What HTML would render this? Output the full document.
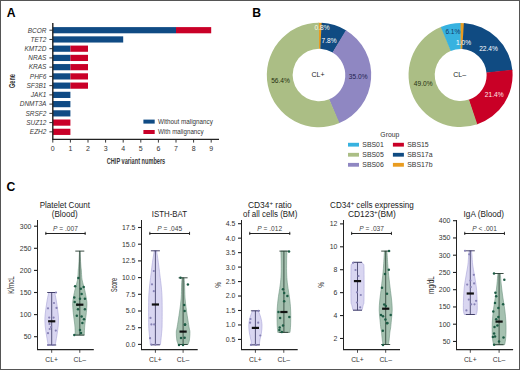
<!DOCTYPE html>
<html><head><meta charset="utf-8"><style>
html,body{margin:0;padding:0;background:#fff;}
svg{display:block;font-family:"Liberation Sans", sans-serif;}
</style></head><body>
<svg width="520" height="370" viewBox="0 0 520 370">
<rect width="520" height="370" fill="#fff"/>
<text x="6.80" y="16.90" font-size="12.2" text-anchor="start" fill="#000" font-weight="bold" font-style="normal" >A</text>
<text x="252.30" y="16.90" font-size="12.2" text-anchor="start" fill="#000" font-weight="bold" font-style="normal" >B</text>
<text x="6.60" y="190.90" font-size="12.2" text-anchor="start" fill="#000" font-weight="bold" font-style="normal" >C</text>
<rect x="52.80" y="27.10" width="123.20" height="6.20" fill="#104b84"/>
<rect x="176.00" y="27.10" width="35.20" height="6.20" fill="#c90028"/>
<line x1="49.40" y1="30.20" x2="52.80" y2="30.20" stroke="#222" stroke-width="0.9"/>
<text x="0" y="0" font-size="7.3" text-anchor="end" fill="#3a3a3a" font-style="italic" transform="translate(46.4 32.50) scale(0.89 1)">BCOR</text>
<rect x="52.80" y="36.34" width="70.40" height="6.20" fill="#104b84"/>
<line x1="49.40" y1="39.44" x2="52.80" y2="39.44" stroke="#222" stroke-width="0.9"/>
<text x="0" y="0" font-size="7.3" text-anchor="end" fill="#3a3a3a" font-style="italic" transform="translate(46.4 41.74) scale(0.89 1)">TET2</text>
<rect x="52.80" y="45.58" width="17.60" height="6.20" fill="#104b84"/>
<rect x="70.40" y="45.58" width="17.60" height="6.20" fill="#c90028"/>
<line x1="49.40" y1="48.68" x2="52.80" y2="48.68" stroke="#222" stroke-width="0.9"/>
<text x="0" y="0" font-size="7.3" text-anchor="end" fill="#3a3a3a" font-style="italic" transform="translate(46.4 50.98) scale(0.89 1)">KMT2D</text>
<rect x="52.80" y="54.82" width="17.60" height="6.20" fill="#104b84"/>
<rect x="70.40" y="54.82" width="17.60" height="6.20" fill="#c90028"/>
<line x1="49.40" y1="57.92" x2="52.80" y2="57.92" stroke="#222" stroke-width="0.9"/>
<text x="0" y="0" font-size="7.3" text-anchor="end" fill="#3a3a3a" font-style="italic" transform="translate(46.4 60.22) scale(0.89 1)">NRAS</text>
<rect x="52.80" y="64.06" width="17.60" height="6.20" fill="#104b84"/>
<rect x="70.40" y="64.06" width="17.60" height="6.20" fill="#c90028"/>
<line x1="49.40" y1="67.16" x2="52.80" y2="67.16" stroke="#222" stroke-width="0.9"/>
<text x="0" y="0" font-size="7.3" text-anchor="end" fill="#3a3a3a" font-style="italic" transform="translate(46.4 69.46) scale(0.89 1)">KRAS</text>
<rect x="52.80" y="73.30" width="17.60" height="6.20" fill="#104b84"/>
<rect x="70.40" y="73.30" width="17.60" height="6.20" fill="#c90028"/>
<line x1="49.40" y1="76.40" x2="52.80" y2="76.40" stroke="#222" stroke-width="0.9"/>
<text x="0" y="0" font-size="7.3" text-anchor="end" fill="#3a3a3a" font-style="italic" transform="translate(46.4 78.70) scale(0.89 1)">PHF6</text>
<rect x="52.80" y="82.54" width="17.60" height="6.20" fill="#104b84"/>
<rect x="70.40" y="82.54" width="17.60" height="6.20" fill="#c90028"/>
<line x1="49.40" y1="85.64" x2="52.80" y2="85.64" stroke="#222" stroke-width="0.9"/>
<text x="0" y="0" font-size="7.3" text-anchor="end" fill="#3a3a3a" font-style="italic" transform="translate(46.4 87.94) scale(0.89 1)">SF3B1</text>
<rect x="52.80" y="91.78" width="17.60" height="6.20" fill="#104b84"/>
<line x1="49.40" y1="94.88" x2="52.80" y2="94.88" stroke="#222" stroke-width="0.9"/>
<text x="0" y="0" font-size="7.3" text-anchor="end" fill="#3a3a3a" font-style="italic" transform="translate(46.4 97.18) scale(0.89 1)">JAK1</text>
<rect x="52.80" y="101.02" width="17.60" height="6.20" fill="#104b84"/>
<line x1="49.40" y1="104.12" x2="52.80" y2="104.12" stroke="#222" stroke-width="0.9"/>
<text x="0" y="0" font-size="7.3" text-anchor="end" fill="#3a3a3a" font-style="italic" transform="translate(46.4 106.42) scale(0.89 1)">DNMT3A</text>
<rect x="52.80" y="110.26" width="17.60" height="6.20" fill="#104b84"/>
<line x1="49.40" y1="113.36" x2="52.80" y2="113.36" stroke="#222" stroke-width="0.9"/>
<text x="0" y="0" font-size="7.3" text-anchor="end" fill="#3a3a3a" font-style="italic" transform="translate(46.4 115.66) scale(0.89 1)">SRSF2</text>
<rect x="52.80" y="119.50" width="17.60" height="6.20" fill="#c90028"/>
<line x1="49.40" y1="122.60" x2="52.80" y2="122.60" stroke="#222" stroke-width="0.9"/>
<text x="0" y="0" font-size="7.3" text-anchor="end" fill="#3a3a3a" font-style="italic" transform="translate(46.4 124.90) scale(0.89 1)">SUZ12</text>
<rect x="52.80" y="128.74" width="17.60" height="6.20" fill="#c90028"/>
<line x1="49.40" y1="131.84" x2="52.80" y2="131.84" stroke="#222" stroke-width="0.9"/>
<text x="0" y="0" font-size="7.3" text-anchor="end" fill="#3a3a3a" font-style="italic" transform="translate(46.4 134.14) scale(0.89 1)">EZH2</text>
<line x1="52.80" y1="23.00" x2="52.80" y2="139.80" stroke="#222" stroke-width="1.4"/>
<line x1="52.30" y1="139.30" x2="219.00" y2="139.30" stroke="#222" stroke-width="1.2"/>
<line x1="52.80" y1="139.30" x2="52.80" y2="142.60" stroke="#222" stroke-width="0.9"/>
<text x="52.80" y="151.20" font-size="7" text-anchor="middle" fill="#333" font-weight="normal" font-style="normal" >0</text>
<line x1="70.40" y1="139.30" x2="70.40" y2="142.60" stroke="#222" stroke-width="0.9"/>
<text x="70.40" y="151.20" font-size="7" text-anchor="middle" fill="#333" font-weight="normal" font-style="normal" >1</text>
<line x1="88.00" y1="139.30" x2="88.00" y2="142.60" stroke="#222" stroke-width="0.9"/>
<text x="88.00" y="151.20" font-size="7" text-anchor="middle" fill="#333" font-weight="normal" font-style="normal" >2</text>
<line x1="105.60" y1="139.30" x2="105.60" y2="142.60" stroke="#222" stroke-width="0.9"/>
<text x="105.60" y="151.20" font-size="7" text-anchor="middle" fill="#333" font-weight="normal" font-style="normal" >3</text>
<line x1="123.20" y1="139.30" x2="123.20" y2="142.60" stroke="#222" stroke-width="0.9"/>
<text x="123.20" y="151.20" font-size="7" text-anchor="middle" fill="#333" font-weight="normal" font-style="normal" >4</text>
<line x1="140.80" y1="139.30" x2="140.80" y2="142.60" stroke="#222" stroke-width="0.9"/>
<text x="140.80" y="151.20" font-size="7" text-anchor="middle" fill="#333" font-weight="normal" font-style="normal" >5</text>
<line x1="158.40" y1="139.30" x2="158.40" y2="142.60" stroke="#222" stroke-width="0.9"/>
<text x="158.40" y="151.20" font-size="7" text-anchor="middle" fill="#333" font-weight="normal" font-style="normal" >6</text>
<line x1="176.00" y1="139.30" x2="176.00" y2="142.60" stroke="#222" stroke-width="0.9"/>
<text x="176.00" y="151.20" font-size="7" text-anchor="middle" fill="#333" font-weight="normal" font-style="normal" >7</text>
<line x1="193.60" y1="139.30" x2="193.60" y2="142.60" stroke="#222" stroke-width="0.9"/>
<text x="193.60" y="151.20" font-size="7" text-anchor="middle" fill="#333" font-weight="normal" font-style="normal" >8</text>
<line x1="211.20" y1="139.30" x2="211.20" y2="142.60" stroke="#222" stroke-width="0.9"/>
<text x="211.20" y="151.20" font-size="7" text-anchor="middle" fill="#333" font-weight="normal" font-style="normal" >9</text>
<text x="136.00" y="163.50" font-size="8.4" text-anchor="middle" fill="#3a3a3a" font-weight="bold" font-style="normal" textLength="58.5" lengthAdjust="spacingAndGlyphs">CHIP variant numbers</text>
<text x="14.7" y="81.0" font-size="8.6" font-weight="bold" text-anchor="middle" fill="#333" transform="rotate(-90 14.7 81.0)" textLength="14" lengthAdjust="spacingAndGlyphs">Gene</text>
<rect x="143.40" y="119.60" width="11.30" height="4.00" fill="#104b84"/>
<rect x="143.40" y="130.00" width="11.30" height="4.00" fill="#c90028"/>
<text x="158.00" y="124.00" font-size="7.2" text-anchor="start" fill="#333" font-weight="normal" font-style="normal" textLength="54.8" lengthAdjust="spacingAndGlyphs">Without malignancy</text>
<text x="158.00" y="134.20" font-size="7.2" text-anchor="start" fill="#333" font-weight="normal" font-style="normal" textLength="45.5" lengthAdjust="spacingAndGlyphs">With malignancy</text>
<path d="M318.37,22.80 A52.2,52.2 0 0 1 322.25,22.90 L320.64,48.75 A26.3,26.3 0 0 0 318.68,48.70 Z" fill="#e99c20" />
<path d="M321.62,22.87 A52.2,52.2 0 0 1 346.39,30.56 L332.80,52.61 A26.3,26.3 0 0 0 320.32,48.73 Z" fill="#104b82" />
<path d="M345.85,30.24 A52.2,52.2 0 0 1 338.85,123.28 L329.00,99.32 A26.3,26.3 0 0 0 332.53,52.45 Z" fill="#8f87c2" />
<path d="M339.43,123.04 A52.2,52.2 0 1 1 319.00,22.80 L319.00,48.70 A26.3,26.3 0 1 0 329.29,99.20 Z" fill="#abbe85" />
<path d="M459.98,23.00 A52.0,52.0 0 0 1 464.49,23.15 L462.54,49.07 A26.0,26.0 0 0 0 460.29,49.00 Z" fill="#e99c20" />
<path d="M463.87,23.10 A52.0,52.0 0 0 1 512.40,70.40 L486.50,72.70 A26.0,26.0 0 0 0 462.23,49.05 Z" fill="#104b82" />
<path d="M512.34,69.78 A52.0,52.0 0 0 1 476.70,124.45 L468.65,99.72 A26.0,26.0 0 0 0 486.47,72.39 Z" fill="#c90026" />
<path d="M477.29,124.25 A52.0,52.0 0 0 1 441.43,26.66 L451.02,50.83 A26.0,26.0 0 0 0 468.94,99.62 Z" fill="#abbe85" />
<path d="M440.85,26.90 A52.0,52.0 0 0 1 460.60,23.00 L460.60,49.00 A26.0,26.0 0 0 0 450.73,50.95 Z" fill="#37b2e0" />
<text x="322.00" y="30.20" font-size="6.6" text-anchor="middle" fill="#fdfbe6" font-weight="normal" font-style="normal" >0.8%</text>
<text x="329.00" y="43.20" font-size="6.6" text-anchor="middle" fill="#ffffff" font-weight="normal" font-style="normal" >7.8%</text>
<text x="358.20" y="78.90" font-size="6.6" text-anchor="middle" fill="#221f4f" font-weight="normal" font-style="normal" >35.0%</text>
<text x="280.50" y="82.60" font-size="6.6" text-anchor="middle" fill="#26300f" font-weight="normal" font-style="normal" >56.4%</text>
<text x="318.00" y="77.00" font-size="7" text-anchor="middle" fill="#222" font-weight="normal" font-style="normal" >CL+</text>
<text x="452.90" y="33.70" font-size="6.6" text-anchor="middle" fill="#123a6a" font-weight="normal" font-style="normal" >6.1%</text>
<text x="463.60" y="45.10" font-size="6.6" text-anchor="middle" fill="#ffffff" font-weight="normal" font-style="normal" >1.0%</text>
<text x="488.50" y="50.50" font-size="6.6" text-anchor="middle" fill="#ffffff" font-weight="normal" font-style="normal" >22.4%</text>
<text x="494.20" y="96.70" font-size="6.6" text-anchor="middle" fill="#ffe8ea" font-weight="normal" font-style="normal" >21.4%</text>
<text x="423.20" y="85.90" font-size="6.6" text-anchor="middle" fill="#26300f" font-weight="normal" font-style="normal" >49.0%</text>
<text x="459.70" y="77.20" font-size="7" text-anchor="middle" fill="#222" font-weight="normal" font-style="normal" >CL–</text>
<text x="389.80" y="137.00" font-size="6.8" text-anchor="middle" fill="#333" font-weight="normal" font-style="normal" >Group</text>
<rect x="348.00" y="142.80" width="11.00" height="3.80" fill="#37b2e0"/>
<text x="362.30" y="147.20" font-size="6.9" text-anchor="start" fill="#333" font-weight="normal" font-style="normal" >SBS01</text>
<rect x="392.90" y="142.80" width="11.00" height="3.80" fill="#c90026"/>
<text x="407.20" y="147.20" font-size="6.9" text-anchor="start" fill="#333" font-weight="normal" font-style="normal" >SBS15</text>
<rect x="348.00" y="152.85" width="11.00" height="3.80" fill="#abbe85"/>
<text x="362.30" y="157.25" font-size="6.9" text-anchor="start" fill="#333" font-weight="normal" font-style="normal" >SBS05</text>
<rect x="392.90" y="152.85" width="11.00" height="3.80" fill="#104b82"/>
<text x="407.20" y="157.25" font-size="6.9" text-anchor="start" fill="#333" font-weight="normal" font-style="normal" >SBS17a</text>
<rect x="348.00" y="162.90" width="11.00" height="3.80" fill="#8f87c2"/>
<text x="362.30" y="167.30" font-size="6.9" text-anchor="start" fill="#333" font-weight="normal" font-style="normal" >SBS06</text>
<rect x="392.90" y="162.90" width="11.00" height="3.80" fill="#e99c20"/>
<text x="407.20" y="167.30" font-size="6.9" text-anchor="start" fill="#333" font-weight="normal" font-style="normal" >SBS17b</text>
<line x1="37.50" y1="220.00" x2="37.50" y2="350.00" stroke="#222" stroke-width="1"/>
<line x1="37.00" y1="349.70" x2="93.80" y2="349.70" stroke="#222" stroke-width="1.3"/>
<line x1="34.00" y1="336.70" x2="37.50" y2="336.70" stroke="#222" stroke-width="1.1"/>
<text x="31.30" y="339.15" font-size="6.9" text-anchor="end" fill="#333" font-weight="normal" font-style="normal" >50</text>
<line x1="34.00" y1="314.60" x2="37.50" y2="314.60" stroke="#222" stroke-width="1.1"/>
<text x="31.30" y="317.05" font-size="6.9" text-anchor="end" fill="#333" font-weight="normal" font-style="normal" >100</text>
<line x1="34.00" y1="292.50" x2="37.50" y2="292.50" stroke="#222" stroke-width="1.1"/>
<text x="31.30" y="294.95" font-size="6.9" text-anchor="end" fill="#333" font-weight="normal" font-style="normal" >150</text>
<line x1="34.00" y1="270.40" x2="37.50" y2="270.40" stroke="#222" stroke-width="1.1"/>
<text x="31.30" y="272.85" font-size="6.9" text-anchor="end" fill="#333" font-weight="normal" font-style="normal" >200</text>
<line x1="34.00" y1="248.30" x2="37.50" y2="248.30" stroke="#222" stroke-width="1.1"/>
<text x="31.30" y="250.75" font-size="6.9" text-anchor="end" fill="#333" font-weight="normal" font-style="normal" >250</text>
<line x1="34.00" y1="226.20" x2="37.50" y2="226.20" stroke="#222" stroke-width="1.1"/>
<text x="31.30" y="228.65" font-size="6.9" text-anchor="end" fill="#333" font-weight="normal" font-style="normal" >300</text>
<text x="64.85" y="207.60" font-size="8.3" text-anchor="middle" fill="#222" font-weight="normal" font-style="normal" textLength="50.2" lengthAdjust="spacingAndGlyphs">Platelet Count</text>
<text x="64.75" y="216.90" font-size="8.3" text-anchor="middle" fill="#222" font-weight="normal" font-style="normal" textLength="25.9" lengthAdjust="spacingAndGlyphs">(Blood)</text>
<line x1="45.40" y1="233.50" x2="85.60" y2="233.50" stroke="#222" stroke-width="1.0"/>
<line x1="45.85" y1="231.80" x2="45.85" y2="235.00" stroke="#222" stroke-width="0.9"/>
<line x1="85.15" y1="231.80" x2="85.15" y2="235.00" stroke="#222" stroke-width="0.9"/>
<text x="65.50" y="231.40" font-size="6.6" text-anchor="middle" fill="#444" font-weight="normal" font-style="normal" ><tspan font-style="italic">P</tspan> = .007</text>
<line x1="51.70" y1="349.50" x2="51.70" y2="352.80" stroke="#222" stroke-width="0.8"/>
<text x="51.70" y="361.80" font-size="6.8" text-anchor="middle" fill="#333" font-weight="normal" font-style="normal" >CL+</text>
<line x1="79.80" y1="349.50" x2="79.80" y2="352.80" stroke="#222" stroke-width="0.8"/>
<text x="79.80" y="361.80" font-size="6.8" text-anchor="middle" fill="#333" font-weight="normal" font-style="normal" >CL–</text>
<text x="14.4" y="285.0" font-size="8.2" text-anchor="middle" fill="#2a2a2a" transform="rotate(-90 14.4 285.0)" textLength="17.6" lengthAdjust="spacingAndGlyphs">K/mcL</text>
<path d="M51.70,292.50 L54.70,292.50 C54.95,293.75 55.70,297.08 56.20,300.00 C56.70,302.92 57.32,307.00 57.70,310.00 C58.08,313.00 58.42,315.33 58.50,318.00 C58.58,320.67 58.48,323.00 58.20,326.00 C57.92,329.00 57.30,332.83 56.80,336.00 C56.30,339.17 55.47,343.50 55.20,345.00 L51.70,345.00 L48.20,345.00 C47.93,343.50 47.10,339.17 46.60,336.00 C46.10,332.83 45.48,329.00 45.20,326.00 C44.92,323.00 44.82,320.67 44.90,318.00 C44.98,315.33 45.32,313.00 45.70,310.00 C46.08,307.00 46.70,302.92 47.20,300.00 C47.70,297.08 48.45,293.75 48.70,292.50 Z" fill="#d9d6f1" stroke="#aaa4d8" stroke-width="0.6"/>
<line x1="51.70" y1="292.50" x2="51.70" y2="345.00" stroke="#34325c" stroke-width="0.8"/>
<line x1="47.20" y1="292.50" x2="56.20" y2="292.50" stroke="#34325c" stroke-width="0.9"/>
<line x1="47.20" y1="345.00" x2="56.20" y2="345.00" stroke="#34325c" stroke-width="0.9"/>
<circle cx="56.00" cy="292.50" r="1.1" fill="#8782b6"/>
<circle cx="54.00" cy="303.00" r="1.1" fill="#8782b6"/>
<circle cx="48.00" cy="308.30" r="1.1" fill="#8782b6"/>
<circle cx="56.50" cy="307.90" r="1.1" fill="#8782b6"/>
<circle cx="49.20" cy="317.60" r="1.1" fill="#8782b6"/>
<circle cx="53.60" cy="317.60" r="1.1" fill="#8782b6"/>
<circle cx="49.50" cy="324.00" r="1.1" fill="#8782b6"/>
<circle cx="49.70" cy="329.00" r="1.1" fill="#8782b6"/>
<circle cx="55.80" cy="330.60" r="1.1" fill="#8782b6"/>
<circle cx="48.00" cy="333.20" r="1.1" fill="#8782b6"/>
<circle cx="51.00" cy="327.00" r="1.1" fill="#8782b6"/>
<circle cx="48.20" cy="345.00" r="1.1" fill="#8782b6"/>
<circle cx="52.70" cy="345.00" r="1.1" fill="#8782b6"/>
<rect x="48.10" y="320.20" width="7.20" height="2.20" fill="#111"/>
<path d="M79.80,251.10 L80.10,251.10 C80.15,252.25 80.28,255.68 80.40,258.00 C80.52,260.32 80.65,263.00 80.80,265.00 C80.95,267.00 81.08,267.50 81.30,270.00 C81.52,272.50 81.53,276.67 82.10,280.00 C82.67,283.33 83.95,286.67 84.70,290.00 C85.45,293.33 86.23,297.50 86.60,300.00 C86.97,302.50 86.98,302.50 86.90,305.00 C86.82,307.50 86.45,311.67 86.10,315.00 C85.75,318.33 85.10,321.65 84.80,325.00 C84.50,328.35 84.38,333.42 84.30,335.10 L79.80,335.10 L75.30,335.10 C75.22,333.42 75.10,328.35 74.80,325.00 C74.50,321.65 73.85,318.33 73.50,315.00 C73.15,311.67 72.78,307.50 72.70,305.00 C72.62,302.50 72.63,302.50 73.00,300.00 C73.37,297.50 74.15,293.33 74.90,290.00 C75.65,286.67 76.93,283.33 77.50,280.00 C78.07,276.67 78.08,272.50 78.30,270.00 C78.52,267.50 78.65,267.00 78.80,265.00 C78.95,263.00 79.08,260.32 79.20,258.00 C79.32,255.68 79.45,252.25 79.50,251.10 Z" fill="#a5c1b0" stroke="#6f9482" stroke-width="0.6"/>
<line x1="79.80" y1="251.10" x2="79.80" y2="335.10" stroke="#263a30" stroke-width="0.8"/>
<line x1="75.30" y1="251.10" x2="84.30" y2="251.10" stroke="#263a30" stroke-width="0.9"/>
<line x1="75.30" y1="335.10" x2="84.30" y2="335.10" stroke="#263a30" stroke-width="0.9"/>
<circle cx="78.40" cy="277.90" r="1.25" fill="#1d5c45"/>
<circle cx="75.10" cy="286.20" r="1.25" fill="#1d5c45"/>
<circle cx="83.70" cy="287.00" r="1.25" fill="#1d5c45"/>
<circle cx="80.80" cy="288.70" r="1.25" fill="#1d5c45"/>
<circle cx="81.60" cy="293.90" r="1.25" fill="#1d5c45"/>
<circle cx="74.30" cy="297.60" r="1.25" fill="#1d5c45"/>
<circle cx="80.00" cy="298.80" r="1.25" fill="#1d5c45"/>
<circle cx="84.90" cy="298.80" r="1.25" fill="#1d5c45"/>
<circle cx="74.70" cy="301.90" r="1.25" fill="#1d5c45"/>
<circle cx="77.20" cy="304.70" r="1.25" fill="#1d5c45"/>
<circle cx="78.00" cy="309.20" r="1.25" fill="#1d5c45"/>
<circle cx="84.90" cy="309.20" r="1.25" fill="#1d5c45"/>
<circle cx="76.80" cy="315.70" r="1.25" fill="#1d5c45"/>
<circle cx="81.60" cy="316.50" r="1.25" fill="#1d5c45"/>
<circle cx="84.00" cy="319.30" r="1.25" fill="#1d5c45"/>
<circle cx="82.40" cy="323.00" r="1.25" fill="#1d5c45"/>
<circle cx="80.00" cy="330.00" r="1.25" fill="#1d5c45"/>
<circle cx="81.00" cy="333.00" r="1.25" fill="#1d5c45"/>
<circle cx="74.30" cy="334.90" r="1.25" fill="#1d5c45"/>
<rect x="76.20" y="303.60" width="7.20" height="2.20" fill="#111"/>
<line x1="141.50" y1="220.00" x2="141.50" y2="350.00" stroke="#222" stroke-width="1"/>
<line x1="141.00" y1="349.70" x2="197.70" y2="349.70" stroke="#222" stroke-width="1.3"/>
<line x1="138.00" y1="344.40" x2="141.50" y2="344.40" stroke="#222" stroke-width="1.1"/>
<text x="135.30" y="346.85" font-size="6.9" text-anchor="end" fill="#333" font-weight="normal" font-style="normal" >0.0</text>
<line x1="138.00" y1="327.70" x2="141.50" y2="327.70" stroke="#222" stroke-width="1.1"/>
<text x="135.30" y="330.15" font-size="6.9" text-anchor="end" fill="#333" font-weight="normal" font-style="normal" >2.5</text>
<line x1="138.00" y1="311.00" x2="141.50" y2="311.00" stroke="#222" stroke-width="1.1"/>
<text x="135.30" y="313.45" font-size="6.9" text-anchor="end" fill="#333" font-weight="normal" font-style="normal" >5.0</text>
<line x1="138.00" y1="294.30" x2="141.50" y2="294.30" stroke="#222" stroke-width="1.1"/>
<text x="135.30" y="296.75" font-size="6.9" text-anchor="end" fill="#333" font-weight="normal" font-style="normal" >7.5</text>
<line x1="138.00" y1="277.60" x2="141.50" y2="277.60" stroke="#222" stroke-width="1.1"/>
<text x="135.30" y="280.05" font-size="6.9" text-anchor="end" fill="#333" font-weight="normal" font-style="normal" >10.0</text>
<line x1="138.00" y1="260.90" x2="141.50" y2="260.90" stroke="#222" stroke-width="1.1"/>
<text x="135.30" y="263.35" font-size="6.9" text-anchor="end" fill="#333" font-weight="normal" font-style="normal" >12.5</text>
<line x1="138.00" y1="244.20" x2="141.50" y2="244.20" stroke="#222" stroke-width="1.1"/>
<text x="135.30" y="246.65" font-size="6.9" text-anchor="end" fill="#333" font-weight="normal" font-style="normal" >15.0</text>
<line x1="138.00" y1="227.50" x2="141.50" y2="227.50" stroke="#222" stroke-width="1.1"/>
<text x="135.30" y="229.95" font-size="6.9" text-anchor="end" fill="#333" font-weight="normal" font-style="normal" >17.5</text>
<text x="169.40" y="216.90" font-size="8.3" text-anchor="middle" fill="#222" font-weight="normal" font-style="normal" textLength="35.2" lengthAdjust="spacingAndGlyphs">ISTH-BAT</text>
<line x1="149.40" y1="233.50" x2="190.00" y2="233.50" stroke="#222" stroke-width="1.0"/>
<line x1="149.85" y1="231.80" x2="149.85" y2="235.00" stroke="#222" stroke-width="0.9"/>
<line x1="189.55" y1="231.80" x2="189.55" y2="235.00" stroke="#222" stroke-width="0.9"/>
<text x="169.70" y="231.40" font-size="6.6" text-anchor="middle" fill="#444" font-weight="normal" font-style="normal" ><tspan font-style="italic">P</tspan> = .045</text>
<line x1="155.40" y1="349.50" x2="155.40" y2="352.80" stroke="#222" stroke-width="0.8"/>
<text x="155.40" y="361.80" font-size="6.8" text-anchor="middle" fill="#333" font-weight="normal" font-style="normal" >CL+</text>
<line x1="183.10" y1="349.50" x2="183.10" y2="352.80" stroke="#222" stroke-width="0.8"/>
<text x="183.10" y="361.80" font-size="6.8" text-anchor="middle" fill="#333" font-weight="normal" font-style="normal" >CL–</text>
<text x="117.0" y="285.0" font-size="8.2" text-anchor="middle" fill="#2a2a2a" transform="rotate(-90 117.0 285.0)" textLength="14.0" lengthAdjust="spacingAndGlyphs">Score</text>
<path d="M155.40,250.80 L156.60,250.80 C156.70,251.50 156.97,253.47 157.20,255.00 C157.43,256.53 157.65,257.50 158.00,260.00 C158.35,262.50 158.98,267.50 159.30,270.00 C159.62,272.50 159.57,272.17 159.90,275.00 C160.23,277.83 160.93,282.83 161.30,287.00 C161.67,291.17 161.97,293.67 162.10,300.00 C162.23,306.33 162.22,319.17 162.10,325.00 C161.98,330.83 161.68,331.70 161.40,335.00 C161.12,338.30 160.57,343.17 160.40,344.80 L155.40,344.80 L150.40,344.80 C150.23,343.17 149.68,338.30 149.40,335.00 C149.12,331.70 148.82,330.83 148.70,325.00 C148.58,319.17 148.57,306.33 148.70,300.00 C148.83,293.67 149.13,291.17 149.50,287.00 C149.87,282.83 150.57,277.83 150.90,275.00 C151.23,272.17 151.18,272.50 151.50,270.00 C151.82,267.50 152.45,262.50 152.80,260.00 C153.15,257.50 153.37,256.53 153.60,255.00 C153.83,253.47 154.10,251.50 154.20,250.80 Z" fill="#d9d6f1" stroke="#aaa4d8" stroke-width="0.6"/>
<line x1="155.40" y1="250.80" x2="155.40" y2="344.80" stroke="#34325c" stroke-width="0.8"/>
<line x1="150.90" y1="250.80" x2="159.90" y2="250.80" stroke="#34325c" stroke-width="0.9"/>
<line x1="150.90" y1="344.80" x2="159.90" y2="344.80" stroke="#34325c" stroke-width="0.9"/>
<circle cx="153.80" cy="271.00" r="1.1" fill="#8782b6"/>
<circle cx="152.00" cy="284.30" r="1.1" fill="#8782b6"/>
<circle cx="153.80" cy="291.20" r="1.1" fill="#8782b6"/>
<circle cx="150.50" cy="317.90" r="1.1" fill="#8782b6"/>
<circle cx="151.40" cy="324.40" r="1.1" fill="#8782b6"/>
<circle cx="154.20" cy="324.40" r="1.1" fill="#8782b6"/>
<circle cx="150.10" cy="338.20" r="1.1" fill="#8782b6"/>
<circle cx="151.40" cy="344.60" r="1.1" fill="#8782b6"/>
<circle cx="155.40" cy="344.60" r="1.1" fill="#8782b6"/>
<rect x="151.80" y="303.40" width="7.20" height="2.20" fill="#111"/>
<path d="M183.10,277.80 L184.10,277.80 C184.18,279.00 184.45,281.63 184.60,285.00 C184.75,288.37 184.70,293.83 185.00,298.00 C185.30,302.17 185.92,306.33 186.40,310.00 C186.88,313.67 187.43,317.00 187.90,320.00 C188.37,323.00 188.87,326.00 189.20,328.00 C189.53,330.00 189.87,330.00 189.90,332.00 C189.93,334.00 189.72,337.92 189.40,340.00 C189.08,342.08 188.23,343.75 188.00,344.50 L183.10,344.50 L178.20,344.50 C177.97,343.75 177.12,342.08 176.80,340.00 C176.48,337.92 176.27,334.00 176.30,332.00 C176.33,330.00 176.67,330.00 177.00,328.00 C177.33,326.00 177.83,323.00 178.30,320.00 C178.77,317.00 179.32,313.67 179.80,310.00 C180.28,306.33 180.90,302.17 181.20,298.00 C181.50,293.83 181.45,288.37 181.60,285.00 C181.75,281.63 182.02,279.00 182.10,277.80 Z" fill="#a5c1b0" stroke="#6f9482" stroke-width="0.6"/>
<line x1="183.10" y1="277.80" x2="183.10" y2="344.50" stroke="#263a30" stroke-width="0.8"/>
<line x1="178.60" y1="277.80" x2="187.60" y2="277.80" stroke="#263a30" stroke-width="0.9"/>
<line x1="178.60" y1="344.50" x2="187.60" y2="344.50" stroke="#263a30" stroke-width="0.9"/>
<circle cx="180.50" cy="277.80" r="1.25" fill="#1d5c45"/>
<circle cx="187.90" cy="284.60" r="1.25" fill="#1d5c45"/>
<circle cx="184.20" cy="304.90" r="1.25" fill="#1d5c45"/>
<circle cx="184.60" cy="311.10" r="1.25" fill="#1d5c45"/>
<circle cx="185.00" cy="324.80" r="1.25" fill="#1d5c45"/>
<circle cx="185.00" cy="324.40" r="1.25" fill="#1d5c45"/>
<circle cx="181.00" cy="338.00" r="1.25" fill="#1d5c45"/>
<circle cx="184.60" cy="337.80" r="1.25" fill="#1d5c45"/>
<circle cx="179.00" cy="345.00" r="1.25" fill="#1d5c45"/>
<circle cx="183.00" cy="345.00" r="1.25" fill="#1d5c45"/>
<rect x="179.50" y="330.50" width="7.20" height="2.20" fill="#111"/>
<line x1="241.50" y1="220.00" x2="241.50" y2="350.00" stroke="#222" stroke-width="1"/>
<line x1="241.00" y1="349.70" x2="297.70" y2="349.70" stroke="#222" stroke-width="1.3"/>
<line x1="238.00" y1="339.42" x2="241.50" y2="339.42" stroke="#222" stroke-width="1.1"/>
<text x="235.30" y="341.87" font-size="6.9" text-anchor="end" fill="#333" font-weight="normal" font-style="normal" >0.5</text>
<line x1="238.00" y1="324.95" x2="241.50" y2="324.95" stroke="#222" stroke-width="1.1"/>
<text x="235.30" y="327.40" font-size="6.9" text-anchor="end" fill="#333" font-weight="normal" font-style="normal" >1.0</text>
<line x1="238.00" y1="310.49" x2="241.50" y2="310.49" stroke="#222" stroke-width="1.1"/>
<text x="235.30" y="312.94" font-size="6.9" text-anchor="end" fill="#333" font-weight="normal" font-style="normal" >1.5</text>
<line x1="238.00" y1="296.02" x2="241.50" y2="296.02" stroke="#222" stroke-width="1.1"/>
<text x="235.30" y="298.47" font-size="6.9" text-anchor="end" fill="#333" font-weight="normal" font-style="normal" >2.0</text>
<line x1="238.00" y1="281.56" x2="241.50" y2="281.56" stroke="#222" stroke-width="1.1"/>
<text x="235.30" y="284.01" font-size="6.9" text-anchor="end" fill="#333" font-weight="normal" font-style="normal" >2.5</text>
<line x1="238.00" y1="267.09" x2="241.50" y2="267.09" stroke="#222" stroke-width="1.1"/>
<text x="235.30" y="269.54" font-size="6.9" text-anchor="end" fill="#333" font-weight="normal" font-style="normal" >3.0</text>
<line x1="238.00" y1="252.63" x2="241.50" y2="252.63" stroke="#222" stroke-width="1.1"/>
<text x="235.30" y="255.08" font-size="6.9" text-anchor="end" fill="#333" font-weight="normal" font-style="normal" >3.5</text>
<line x1="238.00" y1="238.16" x2="241.50" y2="238.16" stroke="#222" stroke-width="1.1"/>
<text x="235.30" y="240.61" font-size="6.9" text-anchor="end" fill="#333" font-weight="normal" font-style="normal" >4.0</text>
<line x1="238.00" y1="223.70" x2="241.50" y2="223.70" stroke="#222" stroke-width="1.1"/>
<text x="235.30" y="226.15" font-size="6.9" text-anchor="end" fill="#333" font-weight="normal" font-style="normal" >4.5</text>
<text x="269.85" y="207.60" font-size="8.3" text-anchor="middle" fill="#222" font-weight="normal" font-style="normal" textLength="43.9" lengthAdjust="spacingAndGlyphs">CD34<tspan font-size="6" dy="-3">+</tspan><tspan dy="3"> ratio</tspan></text>
<text x="270.20" y="216.90" font-size="8.3" text-anchor="middle" fill="#222" font-weight="normal" font-style="normal" textLength="54.4" lengthAdjust="spacingAndGlyphs">of all cells (BM)</text>
<line x1="249.30" y1="233.50" x2="290.20" y2="233.50" stroke="#222" stroke-width="1.0"/>
<line x1="249.75" y1="231.80" x2="249.75" y2="235.00" stroke="#222" stroke-width="0.9"/>
<line x1="289.75" y1="231.80" x2="289.75" y2="235.00" stroke="#222" stroke-width="0.9"/>
<text x="269.75" y="231.40" font-size="6.6" text-anchor="middle" fill="#444" font-weight="normal" font-style="normal" ><tspan font-style="italic">P</tspan> = .012</text>
<line x1="255.40" y1="349.50" x2="255.40" y2="352.80" stroke="#222" stroke-width="0.8"/>
<text x="255.40" y="361.80" font-size="6.8" text-anchor="middle" fill="#333" font-weight="normal" font-style="normal" >CL+</text>
<line x1="283.80" y1="349.50" x2="283.80" y2="352.80" stroke="#222" stroke-width="0.8"/>
<text x="283.80" y="361.80" font-size="6.8" text-anchor="middle" fill="#333" font-weight="normal" font-style="normal" >CL–</text>
<text x="221.0" y="284.9" font-size="8.2" text-anchor="middle" fill="#2a2a2a" transform="rotate(-90 221.0 284.9)" textLength="5.8" lengthAdjust="spacingAndGlyphs">%</text>
<path d="M255.40,310.80 L258.40,310.80 C258.82,312.00 260.30,315.63 260.90,318.00 C261.50,320.37 261.92,322.50 262.00,325.00 C262.08,327.50 261.75,330.50 261.40,333.00 C261.05,335.50 260.23,338.02 259.90,340.00 C259.57,341.98 259.48,344.08 259.40,344.90 L255.40,344.90 L251.40,344.90 C251.32,344.08 251.23,341.98 250.90,340.00 C250.57,338.02 249.75,335.50 249.40,333.00 C249.05,330.50 248.72,327.50 248.80,325.00 C248.88,322.50 249.30,320.37 249.90,318.00 C250.50,315.63 251.98,312.00 252.40,310.80 Z" fill="#d9d6f1" stroke="#aaa4d8" stroke-width="0.6"/>
<line x1="255.40" y1="310.80" x2="255.40" y2="344.90" stroke="#34325c" stroke-width="0.8"/>
<line x1="250.90" y1="310.80" x2="259.90" y2="310.80" stroke="#34325c" stroke-width="0.9"/>
<line x1="250.90" y1="344.90" x2="259.90" y2="344.90" stroke="#34325c" stroke-width="0.9"/>
<circle cx="258.50" cy="310.80" r="1.1" fill="#8782b6"/>
<circle cx="250.50" cy="319.00" r="1.1" fill="#8782b6"/>
<circle cx="250.10" cy="322.70" r="1.1" fill="#8782b6"/>
<circle cx="258.20" cy="322.70" r="1.1" fill="#8782b6"/>
<circle cx="260.30" cy="335.50" r="1.1" fill="#8782b6"/>
<circle cx="250.90" cy="344.90" r="1.1" fill="#8782b6"/>
<circle cx="256.00" cy="344.90" r="1.1" fill="#8782b6"/>
<rect x="251.80" y="326.80" width="7.20" height="2.20" fill="#111"/>
<path d="M283.90,251.10 L286.90,251.10 C286.85,252.92 286.63,258.02 286.60,262.00 C286.57,265.98 286.53,271.17 286.70,275.00 C286.87,278.83 287.08,280.83 287.60,285.00 C288.12,289.17 289.28,295.50 289.80,300.00 C290.32,304.50 290.57,307.83 290.70,312.00 C290.83,316.17 290.72,321.60 290.60,325.00 C290.48,328.40 290.10,331.17 290.00,332.40 L283.90,332.40 L277.80,332.40 C277.70,331.17 277.32,328.40 277.20,325.00 C277.08,321.60 276.97,316.17 277.10,312.00 C277.23,307.83 277.48,304.50 278.00,300.00 C278.52,295.50 279.68,289.17 280.20,285.00 C280.72,280.83 280.93,278.83 281.10,275.00 C281.27,271.17 281.23,265.98 281.20,262.00 C281.17,258.02 280.95,252.92 280.90,251.10 Z" fill="#a5c1b0" stroke="#6f9482" stroke-width="0.6"/>
<line x1="283.90" y1="251.10" x2="283.90" y2="332.40" stroke="#263a30" stroke-width="0.8"/>
<line x1="279.40" y1="251.10" x2="288.40" y2="251.10" stroke="#263a30" stroke-width="0.9"/>
<line x1="279.40" y1="332.40" x2="288.40" y2="332.40" stroke="#263a30" stroke-width="0.9"/>
<circle cx="289.00" cy="251.50" r="1.25" fill="#1d5c45"/>
<circle cx="283.00" cy="289.20" r="1.25" fill="#1d5c45"/>
<circle cx="284.20" cy="292.90" r="1.25" fill="#1d5c45"/>
<circle cx="287.40" cy="295.90" r="1.25" fill="#1d5c45"/>
<circle cx="284.20" cy="301.20" r="1.25" fill="#1d5c45"/>
<circle cx="278.50" cy="312.00" r="1.25" fill="#1d5c45"/>
<circle cx="280.10" cy="318.00" r="1.25" fill="#1d5c45"/>
<circle cx="289.30" cy="316.90" r="1.25" fill="#1d5c45"/>
<circle cx="283.00" cy="325.50" r="1.25" fill="#1d5c45"/>
<circle cx="279.70" cy="327.60" r="1.25" fill="#1d5c45"/>
<circle cx="279.40" cy="330.00" r="1.25" fill="#1d5c45"/>
<circle cx="281.90" cy="332.00" r="1.25" fill="#1d5c45"/>
<rect x="280.30" y="310.90" width="7.20" height="2.20" fill="#111"/>
<line x1="343.50" y1="220.00" x2="343.50" y2="350.00" stroke="#222" stroke-width="1"/>
<line x1="343.00" y1="349.70" x2="400.00" y2="349.70" stroke="#222" stroke-width="1.3"/>
<line x1="340.00" y1="338.48" x2="343.50" y2="338.48" stroke="#222" stroke-width="1.1"/>
<text x="337.30" y="340.93" font-size="6.9" text-anchor="end" fill="#333" font-weight="normal" font-style="normal" >2</text>
<line x1="340.00" y1="315.56" x2="343.50" y2="315.56" stroke="#222" stroke-width="1.1"/>
<text x="337.30" y="318.01" font-size="6.9" text-anchor="end" fill="#333" font-weight="normal" font-style="normal" >4</text>
<line x1="340.00" y1="292.64" x2="343.50" y2="292.64" stroke="#222" stroke-width="1.1"/>
<text x="337.30" y="295.09" font-size="6.9" text-anchor="end" fill="#333" font-weight="normal" font-style="normal" >6</text>
<line x1="340.00" y1="269.72" x2="343.50" y2="269.72" stroke="#222" stroke-width="1.1"/>
<text x="337.30" y="272.17" font-size="6.9" text-anchor="end" fill="#333" font-weight="normal" font-style="normal" >8</text>
<line x1="340.00" y1="246.80" x2="343.50" y2="246.80" stroke="#222" stroke-width="1.1"/>
<text x="337.30" y="249.25" font-size="6.9" text-anchor="end" fill="#333" font-weight="normal" font-style="normal" >10</text>
<line x1="340.00" y1="223.88" x2="343.50" y2="223.88" stroke="#222" stroke-width="1.1"/>
<text x="337.30" y="226.33" font-size="6.9" text-anchor="end" fill="#333" font-weight="normal" font-style="normal" >12</text>
<text x="371.90" y="207.60" font-size="8.3" text-anchor="middle" fill="#222" font-weight="normal" font-style="normal" textLength="83.6" lengthAdjust="spacingAndGlyphs">CD34<tspan font-size="6" dy="-3">+</tspan><tspan dy="3"> cells expressing</tspan></text>
<text x="371.90" y="216.90" font-size="8.3" text-anchor="middle" fill="#222" font-weight="normal" font-style="normal" textLength="48.0" lengthAdjust="spacingAndGlyphs">CD123<tspan font-size="6" dy="-3">+</tspan><tspan dy="3">(BM)</tspan></text>
<line x1="351.20" y1="233.50" x2="391.90" y2="233.50" stroke="#222" stroke-width="1.0"/>
<line x1="351.65" y1="231.80" x2="351.65" y2="235.00" stroke="#222" stroke-width="0.9"/>
<line x1="391.45" y1="231.80" x2="391.45" y2="235.00" stroke="#222" stroke-width="0.9"/>
<text x="371.55" y="231.40" font-size="6.6" text-anchor="middle" fill="#444" font-weight="normal" font-style="normal" ><tspan font-style="italic">P</tspan> = .037</text>
<line x1="357.50" y1="349.50" x2="357.50" y2="352.80" stroke="#222" stroke-width="0.8"/>
<text x="357.50" y="361.80" font-size="6.8" text-anchor="middle" fill="#333" font-weight="normal" font-style="normal" >CL+</text>
<line x1="385.70" y1="349.50" x2="385.70" y2="352.80" stroke="#222" stroke-width="0.8"/>
<text x="385.70" y="361.80" font-size="6.8" text-anchor="middle" fill="#333" font-weight="normal" font-style="normal" >CL–</text>
<text x="324.5" y="284.8" font-size="8.2" text-anchor="middle" fill="#2a2a2a" transform="rotate(-90 324.5 284.8)" textLength="5.8" lengthAdjust="spacingAndGlyphs">%</text>
<path d="M357.50,262.30 L362.00,262.30 C362.22,262.67 362.97,263.55 363.30,264.50 C363.63,265.45 363.88,262.08 364.00,268.00 C364.12,273.92 364.13,293.83 364.00,300.00 C363.87,306.17 363.53,303.30 363.20,305.00 C362.87,306.70 362.20,309.33 362.00,310.20 L357.50,310.20 L353.00,310.20 C352.80,309.33 352.13,306.70 351.80,305.00 C351.47,303.30 351.13,306.17 351.00,300.00 C350.87,293.83 350.88,273.92 351.00,268.00 C351.12,262.08 351.37,265.45 351.70,264.50 C352.03,263.55 352.78,262.67 353.00,262.30 Z" fill="#d9d6f1" stroke="#aaa4d8" stroke-width="0.6"/>
<line x1="357.50" y1="262.30" x2="357.50" y2="310.20" stroke="#34325c" stroke-width="0.8"/>
<line x1="353.00" y1="262.30" x2="362.00" y2="262.30" stroke="#34325c" stroke-width="0.9"/>
<line x1="353.00" y1="310.20" x2="362.00" y2="310.20" stroke="#34325c" stroke-width="0.9"/>
<circle cx="353.00" cy="262.80" r="1.1" fill="#8782b6"/>
<circle cx="357.00" cy="292.30" r="1.1" fill="#8782b6"/>
<circle cx="360.80" cy="295.00" r="1.1" fill="#8782b6"/>
<circle cx="357.00" cy="302.50" r="1.1" fill="#8782b6"/>
<circle cx="360.20" cy="307.30" r="1.1" fill="#8782b6"/>
<circle cx="355.50" cy="270.00" r="1.1" fill="#8782b6"/>
<circle cx="358.50" cy="276.00" r="1.1" fill="#8782b6"/>
<rect x="353.90" y="280.00" width="7.20" height="2.20" fill="#111"/>
<path d="M385.70,251.10 L386.90,251.10 C387.05,253.42 387.57,261.52 387.80,265.00 C388.03,268.48 387.93,268.33 388.30,272.00 C388.67,275.67 389.45,282.33 390.00,287.00 C390.55,291.67 391.23,296.17 391.60,300.00 C391.97,303.83 392.23,306.67 392.20,310.00 C392.17,313.33 391.67,317.00 391.40,320.00 C391.13,323.00 390.85,326.00 390.60,328.00 C390.35,330.00 390.15,330.00 389.90,332.00 C389.65,334.00 389.35,337.92 389.10,340.00 C388.85,342.08 388.52,343.75 388.40,344.50 L385.70,344.50 L383.00,344.50 C382.88,343.75 382.55,342.08 382.30,340.00 C382.05,337.92 381.75,334.00 381.50,332.00 C381.25,330.00 381.05,330.00 380.80,328.00 C380.55,326.00 380.27,323.00 380.00,320.00 C379.73,317.00 379.23,313.33 379.20,310.00 C379.17,306.67 379.43,303.83 379.80,300.00 C380.17,296.17 380.85,291.67 381.40,287.00 C381.95,282.33 382.73,275.67 383.10,272.00 C383.47,268.33 383.37,268.48 383.60,265.00 C383.83,261.52 384.35,253.42 384.50,251.10 Z" fill="#a5c1b0" stroke="#6f9482" stroke-width="0.6"/>
<line x1="385.70" y1="251.10" x2="385.70" y2="344.50" stroke="#263a30" stroke-width="0.8"/>
<line x1="381.20" y1="251.10" x2="390.20" y2="251.10" stroke="#263a30" stroke-width="0.9"/>
<line x1="381.20" y1="344.50" x2="390.20" y2="344.50" stroke="#263a30" stroke-width="0.9"/>
<circle cx="389.00" cy="251.10" r="1.25" fill="#1d5c45"/>
<circle cx="388.80" cy="269.70" r="1.25" fill="#1d5c45"/>
<circle cx="385.00" cy="274.00" r="1.25" fill="#1d5c45"/>
<circle cx="382.00" cy="287.80" r="1.25" fill="#1d5c45"/>
<circle cx="387.00" cy="293.70" r="1.25" fill="#1d5c45"/>
<circle cx="384.20" cy="304.50" r="1.25" fill="#1d5c45"/>
<circle cx="385.80" cy="306.10" r="1.25" fill="#1d5c45"/>
<circle cx="381.00" cy="315.00" r="1.25" fill="#1d5c45"/>
<circle cx="383.00" cy="316.20" r="1.25" fill="#1d5c45"/>
<circle cx="390.70" cy="315.00" r="1.25" fill="#1d5c45"/>
<circle cx="385.40" cy="319.50" r="1.25" fill="#1d5c45"/>
<circle cx="387.40" cy="323.10" r="1.25" fill="#1d5c45"/>
<circle cx="387.00" cy="323.20" r="1.25" fill="#1d5c45"/>
<circle cx="382.80" cy="330.80" r="1.25" fill="#1d5c45"/>
<circle cx="383.00" cy="345.00" r="1.25" fill="#1d5c45"/>
<rect x="382.10" y="307.60" width="7.20" height="2.20" fill="#111"/>
<line x1="456.50" y1="220.00" x2="456.50" y2="350.00" stroke="#222" stroke-width="1"/>
<line x1="456.00" y1="349.70" x2="513.10" y2="349.70" stroke="#222" stroke-width="1.3"/>
<line x1="453.00" y1="341.45" x2="456.50" y2="341.45" stroke="#222" stroke-width="1.1"/>
<text x="450.30" y="343.90" font-size="6.9" text-anchor="end" fill="#333" font-weight="normal" font-style="normal" >50</text>
<line x1="453.00" y1="324.20" x2="456.50" y2="324.20" stroke="#222" stroke-width="1.1"/>
<text x="450.30" y="326.65" font-size="6.9" text-anchor="end" fill="#333" font-weight="normal" font-style="normal" >100</text>
<line x1="453.00" y1="306.95" x2="456.50" y2="306.95" stroke="#222" stroke-width="1.1"/>
<text x="450.30" y="309.40" font-size="6.9" text-anchor="end" fill="#333" font-weight="normal" font-style="normal" >150</text>
<line x1="453.00" y1="289.70" x2="456.50" y2="289.70" stroke="#222" stroke-width="1.1"/>
<text x="450.30" y="292.15" font-size="6.9" text-anchor="end" fill="#333" font-weight="normal" font-style="normal" >200</text>
<line x1="453.00" y1="272.45" x2="456.50" y2="272.45" stroke="#222" stroke-width="1.1"/>
<text x="450.30" y="274.90" font-size="6.9" text-anchor="end" fill="#333" font-weight="normal" font-style="normal" >250</text>
<line x1="453.00" y1="255.20" x2="456.50" y2="255.20" stroke="#222" stroke-width="1.1"/>
<text x="450.30" y="257.65" font-size="6.9" text-anchor="end" fill="#333" font-weight="normal" font-style="normal" >300</text>
<line x1="453.00" y1="237.95" x2="456.50" y2="237.95" stroke="#222" stroke-width="1.1"/>
<text x="450.30" y="240.40" font-size="6.9" text-anchor="end" fill="#333" font-weight="normal" font-style="normal" >350</text>
<line x1="453.00" y1="220.70" x2="456.50" y2="220.70" stroke="#222" stroke-width="1.1"/>
<text x="450.30" y="223.15" font-size="6.9" text-anchor="end" fill="#333" font-weight="normal" font-style="normal" >400</text>
<text x="483.85" y="216.90" font-size="8.3" text-anchor="middle" fill="#222" font-weight="normal" font-style="normal" textLength="40.5" lengthAdjust="spacingAndGlyphs">IgA (Blood)</text>
<line x1="464.30" y1="233.50" x2="504.90" y2="233.50" stroke="#222" stroke-width="1.0"/>
<line x1="464.75" y1="231.80" x2="464.75" y2="235.00" stroke="#222" stroke-width="0.9"/>
<line x1="504.45" y1="231.80" x2="504.45" y2="235.00" stroke="#222" stroke-width="0.9"/>
<text x="484.60" y="231.40" font-size="6.6" text-anchor="middle" fill="#444" font-weight="normal" font-style="normal" ><tspan font-style="italic">P</tspan> &lt; .001</text>
<line x1="470.30" y1="349.50" x2="470.30" y2="352.80" stroke="#222" stroke-width="0.8"/>
<text x="470.30" y="361.80" font-size="6.8" text-anchor="middle" fill="#333" font-weight="normal" font-style="normal" >CL+</text>
<line x1="499.10" y1="349.50" x2="499.10" y2="352.80" stroke="#222" stroke-width="0.8"/>
<text x="499.10" y="361.80" font-size="6.8" text-anchor="middle" fill="#333" font-weight="normal" font-style="normal" >CL–</text>
<text x="433.8" y="285.0" font-size="8.2" text-anchor="middle" fill="#2a2a2a" transform="rotate(-90 433.8 285.0)" textLength="17.8" lengthAdjust="spacingAndGlyphs">mg/dL</text>
<path d="M470.30,250.80 L471.50,250.80 C471.57,251.50 471.70,252.63 471.90,255.00 C472.10,257.37 472.28,261.67 472.70,265.00 C473.12,268.33 473.80,271.33 474.40,275.00 C475.00,278.67 475.85,282.83 476.30,287.00 C476.75,291.17 476.95,296.17 477.10,300.00 C477.25,303.83 477.33,307.58 477.20,310.00 C477.07,312.42 476.45,313.75 476.30,314.50 L470.30,314.50 L464.30,314.50 C464.15,313.75 463.53,312.42 463.40,310.00 C463.27,307.58 463.35,303.83 463.50,300.00 C463.65,296.17 463.85,291.17 464.30,287.00 C464.75,282.83 465.60,278.67 466.20,275.00 C466.80,271.33 467.48,268.33 467.90,265.00 C468.32,261.67 468.50,257.37 468.70,255.00 C468.90,252.63 469.03,251.50 469.10,250.80 Z" fill="#d9d6f1" stroke="#aaa4d8" stroke-width="0.6"/>
<line x1="470.30" y1="250.80" x2="470.30" y2="314.50" stroke="#34325c" stroke-width="0.8"/>
<line x1="465.80" y1="250.80" x2="474.80" y2="250.80" stroke="#34325c" stroke-width="0.9"/>
<line x1="465.80" y1="314.50" x2="474.80" y2="314.50" stroke="#34325c" stroke-width="0.9"/>
<circle cx="465.00" cy="250.80" r="1.1" fill="#8782b6"/>
<circle cx="469.20" cy="254.30" r="1.1" fill="#8782b6"/>
<circle cx="473.80" cy="274.80" r="1.1" fill="#8782b6"/>
<circle cx="470.40" cy="280.50" r="1.1" fill="#8782b6"/>
<circle cx="467.20" cy="284.60" r="1.1" fill="#8782b6"/>
<circle cx="474.10" cy="283.40" r="1.1" fill="#8782b6"/>
<circle cx="470.80" cy="287.00" r="1.1" fill="#8782b6"/>
<circle cx="468.80" cy="299.60" r="1.1" fill="#8782b6"/>
<circle cx="476.10" cy="300.80" r="1.1" fill="#8782b6"/>
<circle cx="471.20" cy="304.30" r="1.1" fill="#8782b6"/>
<circle cx="474.50" cy="304.30" r="1.1" fill="#8782b6"/>
<circle cx="466.40" cy="310.40" r="1.1" fill="#8782b6"/>
<rect x="466.70" y="292.40" width="7.20" height="2.20" fill="#111"/>
<path d="M499.10,273.50 L500.30,273.50 C500.47,275.42 500.88,281.08 501.30,285.00 C501.72,288.92 502.22,292.83 502.80,297.00 C503.38,301.17 504.28,305.83 504.80,310.00 C505.32,314.17 505.70,318.33 505.90,322.00 C506.10,325.67 506.07,329.00 506.00,332.00 C505.93,335.00 505.73,337.88 505.50,340.00 C505.27,342.12 504.75,343.92 504.60,344.70 L499.10,344.70 L493.60,344.70 C493.45,343.92 492.93,342.12 492.70,340.00 C492.47,337.88 492.27,335.00 492.20,332.00 C492.13,329.00 492.10,325.67 492.30,322.00 C492.50,318.33 492.88,314.17 493.40,310.00 C493.92,305.83 494.82,301.17 495.40,297.00 C495.98,292.83 496.48,288.92 496.90,285.00 C497.32,281.08 497.73,275.42 497.90,273.50 Z" fill="#a5c1b0" stroke="#6f9482" stroke-width="0.6"/>
<line x1="499.10" y1="273.50" x2="499.10" y2="344.70" stroke="#263a30" stroke-width="0.8"/>
<line x1="494.60" y1="273.50" x2="503.60" y2="273.50" stroke="#263a30" stroke-width="0.9"/>
<line x1="494.60" y1="344.70" x2="503.60" y2="344.70" stroke="#263a30" stroke-width="0.9"/>
<circle cx="494.00" cy="273.50" r="1.25" fill="#1d5c45"/>
<circle cx="504.30" cy="279.80" r="1.25" fill="#1d5c45"/>
<circle cx="495.40" cy="292.70" r="1.25" fill="#1d5c45"/>
<circle cx="496.20" cy="296.20" r="1.25" fill="#1d5c45"/>
<circle cx="495.00" cy="303.10" r="1.25" fill="#1d5c45"/>
<circle cx="503.10" cy="304.30" r="1.25" fill="#1d5c45"/>
<circle cx="498.40" cy="308.00" r="1.25" fill="#1d5c45"/>
<circle cx="493.30" cy="311.60" r="1.25" fill="#1d5c45"/>
<circle cx="498.40" cy="316.90" r="1.25" fill="#1d5c45"/>
<circle cx="496.20" cy="319.30" r="1.25" fill="#1d5c45"/>
<circle cx="497.40" cy="325.60" r="1.25" fill="#1d5c45"/>
<circle cx="494.50" cy="326.90" r="1.25" fill="#1d5c45"/>
<circle cx="494.10" cy="333.40" r="1.25" fill="#1d5c45"/>
<circle cx="492.90" cy="337.00" r="1.25" fill="#1d5c45"/>
<circle cx="495.00" cy="336.60" r="1.25" fill="#1d5c45"/>
<circle cx="503.50" cy="337.40" r="1.25" fill="#1d5c45"/>
<circle cx="499.00" cy="341.50" r="1.25" fill="#1d5c45"/>
<circle cx="494.10" cy="344.70" r="1.25" fill="#1d5c45"/>
<rect x="495.50" y="320.50" width="7.20" height="2.20" fill="#111"/>
<rect x="0.5" y="0.5" width="519" height="369" fill="none" stroke="#555" stroke-width="1"/>
</svg>
</body></html>
